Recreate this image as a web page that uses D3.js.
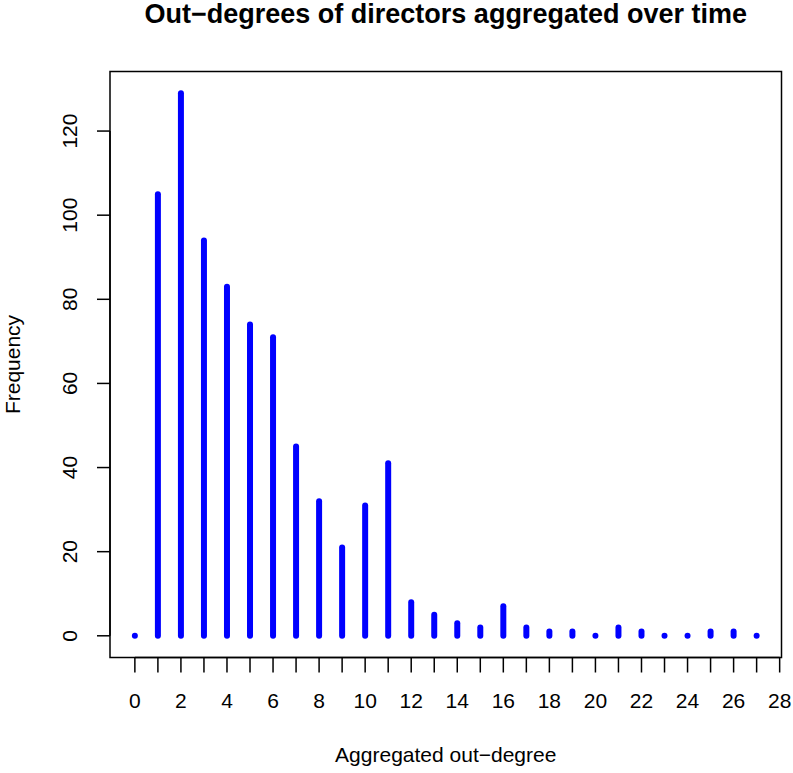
<!DOCTYPE html>
<html>
<head>
<meta charset="utf-8">
<script src="https://cdn.jsdelivr.net/npm/d3@7"></script>
<style>
  html, body { margin: 0; padding: 0; background: #fff; }
  text { font-family: "Liberation Sans", Arial, Helvetica, sans-serif; fill: #000; }
</style>
</head>
<body>
<svg id="chart" width="793" height="773"></svg>
<script>
// out-degree values (x) and how often each occurs
const degrees = [0, 1, 2, 3, 4, 5, 6, 7, 8, 9, 10, 11, 12, 13, 14, 15, 16, 17, 18, 19, 20, 21, 22, 23, 24, 25, 26, 27]
const frequency = [0, 105, 129, 94, 83, 74, 71, 45, 32, 21, 31, 41, 8, 5, 3, 2, 7, 2, 1, 1, 0, 2, 1, 0, 0, 1, 1, 0]
const xTicks = d3.range(0, 29)
const xTickLabels = d3.range(0, 29, 2)
const yTicks = [0, 20, 40, 60, 80, 100, 120]

const width = 793
const height = 773
const plot = { left: 110, right: 781.5, top: 71.5, bottom: 657.5 }

const svg = d3.select('#chart')

svg.append('rect')
  .attr('width', width)
  .attr('height', height)
  .attr('fill', '#fff')

// R style 4% extension of the data range
const xExt = d3.extent(degrees)
const xPad = (xExt[1] - xExt[0]) * 0.04
const yMax = d3.max(frequency)
const yPad = yMax * 0.04

const x = d3.scaleLinear()
  .domain([xExt[0] - xPad, xExt[1] + xPad])
  .range([plot.left, plot.right])

const y = d3.scaleLinear()
  .domain([0 - yPad, yMax + yPad])
  .range([plot.bottom, plot.top])

const data = degrees.map((d, i) => ({ degree: d, freq: frequency[i] }))

// spikes (type = "h")
svg.append('g')
  .selectAll('path')
  .data(data)
  .join('path')
  .attr('d', d => `M${x(d.degree)},${y(0)}L${x(d.degree)},${y(d.freq)}`)
  .attr('stroke', '#0000ff')
  .attr('stroke-width', 6)
  .attr('stroke-linecap', 'round')
  .attr('fill', 'none')

// box
svg.append('rect')
  .attr('x', plot.left)
  .attr('y', plot.top)
  .attr('width', plot.right - plot.left)
  .attr('height', plot.bottom - plot.top)
  .attr('fill', 'none')
  .attr('stroke', '#000')
  .attr('stroke-width', 1.5)

// bottom axis
const xAxis = svg.append('g')
xAxis.append('line')
  .attr('x1', x(0)).attr('x2', x(28))
  .attr('y1', plot.bottom).attr('y2', plot.bottom)
  .attr('stroke', '#000').attr('stroke-width', 1.5)
xAxis.selectAll('.xtick')
  .data(xTicks)
  .join('line')
  .attr('class', 'xtick')
  .attr('x1', d => x(d)).attr('x2', d => x(d))
  .attr('y1', plot.bottom).attr('y2', plot.bottom + 15)
  .attr('stroke', '#000').attr('stroke-width', 1.5)
xAxis.selectAll('.xlab')
  .data(xTickLabels)
  .join('text')
  .attr('class', 'xlab')
  .attr('x', d => x(d))
  .attr('y', 708)
  .attr('text-anchor', 'middle')
  .style('font-size', '21px')
  .text(d => d)

// left axis
const yAxis = svg.append('g')
yAxis.append('line')
  .attr('x1', plot.left).attr('x2', plot.left)
  .attr('y1', y(0)).attr('y2', y(120))
  .attr('stroke', '#000').attr('stroke-width', 1.5)
yAxis.selectAll('.ytick')
  .data(yTicks)
  .join('line')
  .attr('class', 'ytick')
  .attr('x1', plot.left - 13).attr('x2', plot.left)
  .attr('y1', d => y(d)).attr('y2', d => y(d))
  .attr('stroke', '#000').attr('stroke-width', 1.5)
yAxis.selectAll('.ylab')
  .data(yTicks)
  .join('text')
  .attr('class', 'ylab')
  .attr('transform', d => `translate(77,${y(d)}) rotate(-90)`)
  .attr('text-anchor', 'middle')
  .style('font-size', '21px')
  .text(d => d)

// titles
svg.append('text')
  .attr('x', (plot.left + plot.right) / 2)
  .attr('y', 23)
  .attr('text-anchor', 'middle')
  .style('font-size', '27px')
  .style('font-weight', 'bold')
  .text('Out\u2212degrees of directors aggregated over time')

svg.append('text')
  .attr('x', (plot.left + plot.right) / 2)
  .attr('y', 762)
  .attr('text-anchor', 'middle')
  .style('font-size', '21px')
  .text('Aggregated out\u2212degree')

svg.append('text')
  .attr('transform', `translate(19.5,${(plot.top + plot.bottom) / 2}) rotate(-90)`)
  .attr('text-anchor', 'middle')
  .style('font-size', '21px')
  .text('Frequency')
</script>
</body>
</html>
